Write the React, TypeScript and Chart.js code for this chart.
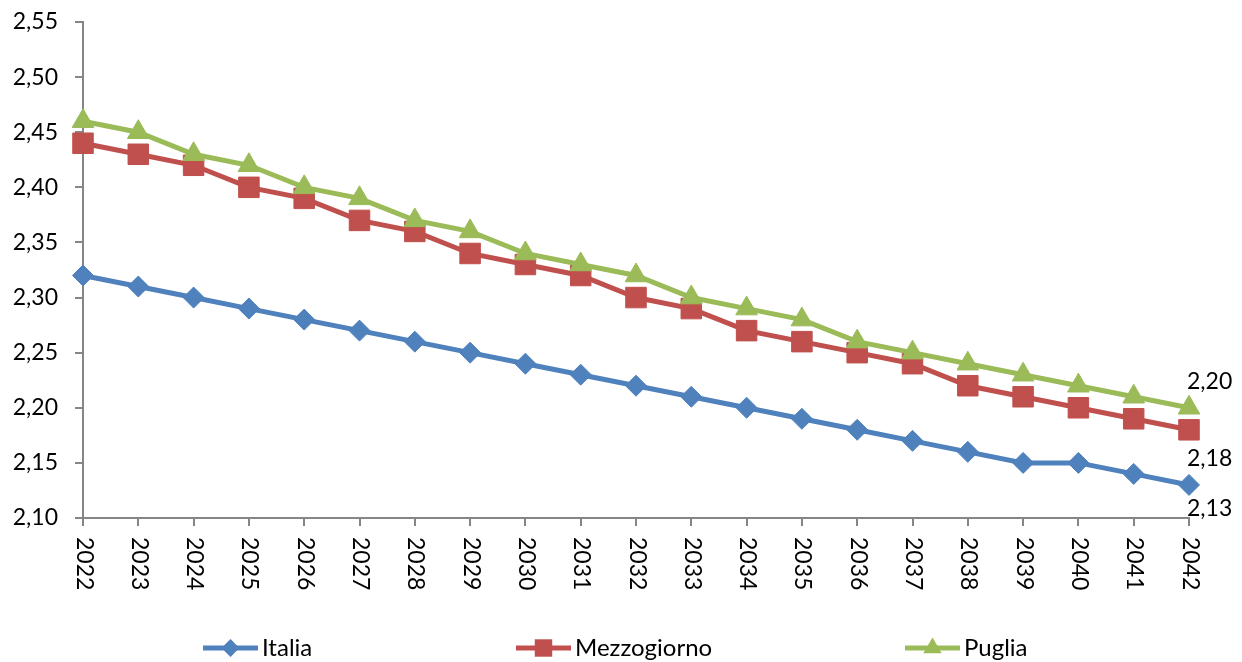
import React, { useEffect, useRef } from 'react';
import { Chart, registerables } from 'chart.js';

Chart.register(...registerables);

const years = ['2022', '2023', '2024', '2025', '2026', '2027', '2028', '2029', '2030', '2031', '2032', '2033', '2034', '2035', '2036', '2037', '2038', '2039', '2040', '2041', '2042'];
const italia = [2.32, 2.31, 2.30, 2.29, 2.28, 2.27, 2.26, 2.25, 2.24, 2.23, 2.22, 2.21, 2.20, 2.19, 2.18, 2.17, 2.16, 2.15, 2.15, 2.14, 2.13];
const mezzogiorno = [2.44, 2.43, 2.42, 2.40, 2.39, 2.37, 2.36, 2.34, 2.33, 2.32, 2.30, 2.29, 2.27, 2.26, 2.25, 2.24, 2.22, 2.21, 2.20, 2.19, 2.18];
const puglia = [2.46, 2.45, 2.43, 2.42, 2.40, 2.39, 2.37, 2.36, 2.34, 2.33, 2.32, 2.30, 2.29, 2.28, 2.26, 2.25, 2.24, 2.23, 2.22, 2.21, 2.20];
const yTicks = [2.10, 2.15, 2.20, 2.25, 2.30, 2.35, 2.40, 2.45, 2.50, 2.55];
const seriesNames = ['Italia', 'Mezzogiorno', 'Puglia'];
const seriesColors = ['#4F81BD', '#C0504D', '#9BBB59'];
const seriesStyles = ['rectRot', 'rect', 'triangle'];
const seriesRadius = [10.5, 14.5, 12.5];
// last-value label offsets (px) relative to the last point
const endLabelOffsets = [24, 29, -26];
const legendX = [203, 516, 905];

const FONT = 'Lato, "Open Sans", "DejaVu Sans", sans-serif';
const FONT_SIZE = 23;
const fmt = (v: number) => v.toFixed(2).replace('.', ',');

function drawMarker(ctx: CanvasRenderingContext2D, style: string, x: number, y: number, r: number) {
  ctx.beginPath();
  if (style === 'rectRot') {
    ctx.moveTo(x, y - r);
    ctx.lineTo(x + r, y);
    ctx.lineTo(x, y + r);
    ctx.lineTo(x - r, y);
  } else if (style === 'rect') {
    const s = r * Math.SQRT1_2;
    ctx.rect(x - s, y - s, 2 * s, 2 * s);
  } else {
    const k = Math.sqrt(3) / 2;
    ctx.moveTo(x, y - r);
    ctx.lineTo(x + k * r, y + r / 2);
    ctx.lineTo(x - k * r, y + r / 2);
  }
  ctx.closePath();
  ctx.fill();
}

const customPlugin = {
  id: 'customDraw',
  afterDraw(chart: any) {
    const ctx: CanvasRenderingContext2D = chart.ctx;
    const xs = chart.scales.x;
    const area = chart.chartArea;
    ctx.save();
    ctx.fillStyle = '#000';
    ctx.font = `${FONT_SIZE}px ${FONT}`;
    // rotated x labels (reading top to bottom)
    years.forEach((yr, i) => {
      const x = xs.getPixelForValue(i);
      ctx.save();
      ctx.translate(x + 1, area.bottom + 19);
      ctx.rotate(Math.PI / 2);
      ctx.textAlign = 'left';
      ctx.textBaseline = 'middle';
      ctx.fillText(yr, 0, 0);
      ctx.restore();
    });
    // end labels
    const datas = [italia, mezzogiorno, puglia];
    datas.forEach((d, di) => {
      const meta = chart.getDatasetMeta(di);
      const pt = meta.data[d.length - 1];
      ctx.textAlign = 'left';
      ctx.textBaseline = 'middle';
      ctx.fillText(fmt(d[d.length - 1]), pt.x - 2, pt.y + endLabelOffsets[di]);
    });
    // legend
    const ly = 648;
    ctx.font = `24px ${FONT}`;
    seriesNames.forEach((name, i) => {
      const x0 = legendX[i];
      ctx.strokeStyle = seriesColors[i];
      ctx.fillStyle = seriesColors[i];
      ctx.lineWidth = 5;
      ctx.beginPath();
      ctx.moveTo(x0, ly);
      ctx.lineTo(x0 + 55, ly);
      ctx.stroke();
      drawMarker(ctx, seriesStyles[i], x0 + 27.5, ly, seriesRadius[i] * 0.85);
      ctx.fillStyle = '#000';
      ctx.textAlign = 'left';
      ctx.textBaseline = 'middle';
      ctx.fillText(name, x0 + 59, ly);
    });
    ctx.restore();
  },
};

export default function App() {
  const ref = useRef<HTMLCanvasElement | null>(null);
  useEffect(() => {
    if (!ref.current) return;
    const datas = [italia, mezzogiorno, puglia];
    const chart = new Chart(ref.current, {
      type: 'line',
      data: {
        labels: years,
        datasets: datas.map((d, i) => ({
          label: seriesNames[i],
          data: d,
          borderColor: seriesColors[i],
          backgroundColor: seriesColors[i],
          borderWidth: 5,
          tension: 0,
          pointStyle: seriesStyles[i] as any,
          pointRadius: seriesRadius[i],
          pointHoverRadius: seriesRadius[i],
          pointBackgroundColor: seriesColors[i],
          pointBorderColor: seriesColors[i],
          pointBorderWidth: 1,
          order: 2 - i,
        })),
      },
      options: {
        animation: false,
        responsive: true,
        maintainAspectRatio: false,
        layout: { padding: { left: 0, right: 53, top: 22, bottom: 0 } },
        plugins: {
          legend: { display: false },
          tooltip: { enabled: false },
          title: { display: false },
        },
        scales: {
          x: {
            type: 'category',
            offset: false,
            grid: {
              display: true,
              drawOnChartArea: false,
              drawTicks: true,
              tickLength: 8,
              color: '#868686',
              lineWidth: 2,
            },
            border: { display: true, color: '#868686', width: 2 },
            ticks: {
              color: 'rgba(0,0,0,0)',
              minRotation: 90,
              maxRotation: 90,
              autoSkip: false,
              font: { size: FONT_SIZE, family: FONT },
            },
            afterFit: (s: any) => {
              s.height = 144;
              s.paddingLeft = 0;
              s.paddingRight = 0;
            },
          },
          y: {
            type: 'linear',
            min: 2.1,
            max: 2.55,
            grid: {
              display: true,
              drawOnChartArea: false,
              drawTicks: true,
              tickLength: 8,
              color: '#868686',
              lineWidth: 2,
            },
            border: { display: true, color: '#868686', width: 2 },
            afterBuildTicks: (s: any) => {
              s.ticks = yTicks.map((v) => ({ value: v }));
            },
            ticks: {
              color: '#000',
              padding: 17,
              font: { size: FONT_SIZE, family: FONT },
              callback: (v: any) => fmt(Number(v)),
            },
            afterFit: (s: any) => {
              s.width = 83;
              s.paddingTop = 0;
              s.paddingBottom = 0;
            },
          },
        },
      },
      plugins: [customPlugin],
    });
    return () => chart.destroy();
  }, []);
  return (
    <div style={{ position: 'absolute', left: 0, top: 0, width: 1242, height: 662, background: '#fff' }}>
      <canvas ref={ref} />
    </div>
  );
}
